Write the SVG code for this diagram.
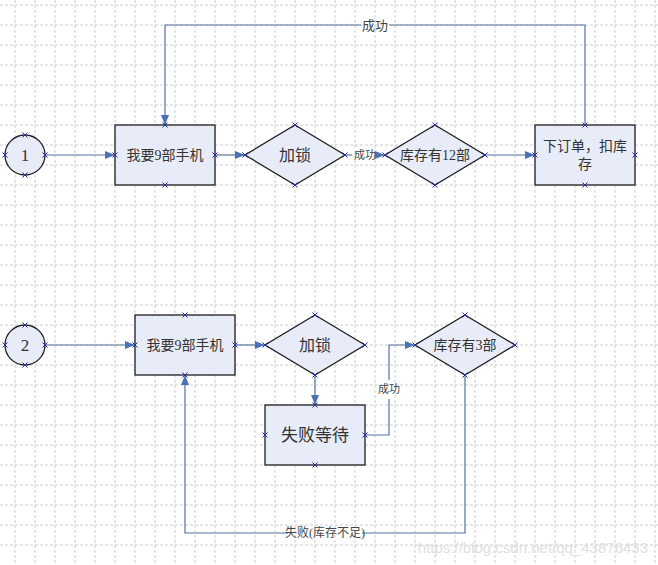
<svg xmlns="http://www.w3.org/2000/svg" xmlns:xlink="http://www.w3.org/1999/xlink" width="658" height="565" viewBox="0 0 658 565">
<style>
.grid{stroke:#cdcdcd;stroke-width:1;stroke-dasharray:3 2;fill:none}
.node{fill:#e8ecf8;stroke:#1e1e1e;stroke-width:1.3}
.t{font-family:"Liberation Serif","Noto Sans CJK SC",serif;fill:#333;text-anchor:middle;dominant-baseline:central}
.conn{fill:none;stroke:#55739f;stroke-width:1.2}
.lbl{font-family:"Liberation Serif","Noto Sans CJK SC",serif;fill:#444;text-anchor:middle;dominant-baseline:central}
.pt{stroke:#2a2aa8;stroke-width:1;fill:none}
</style>
<defs>
<marker id="arr" markerUnits="userSpaceOnUse" markerWidth="11" markerHeight="8" refX="10" refY="4" orient="auto">
<path d="M0,0 L10,4 L0,8 z" fill="#4a70b8"/>
</marker>
<path id="x" class="pt" d="M-2.5,-2.5L2.5,2.5M-2.5,2.5L2.5,-2.5"/>
</defs>
<rect width="658" height="565" fill="#fff"/>
<g id="grid" class="grid">
<path d="M15,0V565M35,0V565M55,0V565M75,0V565M95,0V565M115,0V565M135,0V565M155,0V565M175,0V565M195,0V565M215,0V565M235,0V565M255,0V565M275,0V565M295,0V565M315,0V565M335,0V565M355,0V565M375,0V565M395,0V565M415,0V565M435,0V565M455,0V565M475,0V565M495,0V565M515,0V565M535,0V565M555,0V565M575,0V565M595,0V565M615,0V565M635,0V565M655,0V565"/>
<path d="M0,5H658M0,25H658M0,45H658M0,65H658M0,85H658M0,105H658M0,125H658M0,145H658M0,165H658M0,185H658M0,205H658M0,225H658M0,245H658M0,265H658M0,285H658M0,305H658M0,325H658M0,345H658M0,365H658M0,385H658M0,405H658M0,425H658M0,445H658M0,465H658M0,485H658M0,505H658M0,525H658M0,545H658"/>
</g>
<g id="connectors">
<path class="conn" d="M45,155H115" marker-end="url(#arr)"/>
<path class="conn" d="M215,155H245" marker-end="url(#arr)"/>
<path class="conn" d="M345,155H352"/>
<path class="conn" d="M377,155H385" marker-end="url(#arr)"/>
<path class="conn" d="M485,155H535" marker-end="url(#arr)"/>
<path class="conn" d="M585,125V25H389M361,25H165V125" marker-end="url(#arr)"/>
<text class="lbl" x="375" y="25" font-size="13">成功</text>
<text class="lbl" x="365" y="155" font-size="11">成功</text>
<path class="conn" d="M45,345H135" marker-end="url(#arr)"/>
<path class="conn" d="M235,345H265" marker-end="url(#arr)"/>
<path class="conn" d="M315,375V405" marker-end="url(#arr)"/>
<path class="conn" d="M365,435H389V399M389,380V345H415" marker-end="url(#arr)"/>
<text class="lbl" x="389" y="389" font-size="11">成功</text>
<path class="conn" d="M465,375V533H362M288,533H185V375" marker-end="url(#arr)"/>
<text class="lbl" x="325" y="533" font-size="12">失败(库存不足)</text>
</g>
<g id="start1">
<circle class="node" cx="25" cy="155" r="20"/>
<text class="t" x="25" y="155" font-size="17">1</text>
<use href="#x" x="25" y="135"/><use href="#x" x="25" y="175"/><use href="#x" x="5" y="155"/><use href="#x" x="45" y="155"/>
</g>
<g id="want1">
<rect class="node" x="115" y="125" width="100" height="60"/>
<text class="t" x="165" y="155" font-size="14">我要9部手机</text>
<use href="#x" x="165" y="125"/><use href="#x" x="165" y="185"/><use href="#x" x="115" y="155"/><use href="#x" x="215" y="155"/>
</g>
<g id="lock1">
<path class="node" d="M295,125L345,155L295,185L245,155z"/>
<text class="t" x="295" y="155" font-size="16">加锁</text>
<use href="#x" x="295" y="125"/><use href="#x" x="295" y="185"/><use href="#x" x="245" y="155"/><use href="#x" x="345" y="155"/>
</g>
<g id="stock12">
<path class="node" d="M435,125L485,155L435,185L385,155z"/>
<text class="t" x="435" y="155" font-size="14">库存有12部</text>
<use href="#x" x="435" y="125"/><use href="#x" x="435" y="185"/><use href="#x" x="385" y="155"/><use href="#x" x="485" y="155"/>
</g>
<g id="order">
<rect class="node" x="535" y="125" width="100" height="60"/>
<text class="t" x="585" y="146" font-size="14">下订单，扣库</text>
<text class="t" x="585" y="164" font-size="14">存</text>
<use href="#x" x="585" y="125"/><use href="#x" x="585" y="185"/><use href="#x" x="535" y="155"/><use href="#x" x="635" y="155"/>
</g>
<g id="start2">
<circle class="node" cx="25" cy="345" r="20"/>
<text class="t" x="25" y="345" font-size="17">2</text>
<use href="#x" x="25" y="325"/><use href="#x" x="25" y="365"/><use href="#x" x="5" y="345"/><use href="#x" x="45" y="345"/>
</g>
<g id="want2">
<rect class="node" x="135" y="315" width="100" height="60"/>
<text class="t" x="185" y="345" font-size="14">我要9部手机</text>
<use href="#x" x="185" y="315"/><use href="#x" x="185" y="375"/><use href="#x" x="135" y="345"/><use href="#x" x="235" y="345"/>
</g>
<g id="lock2">
<path class="node" d="M315,315L365,345L315,375L265,345z"/>
<text class="t" x="315" y="345" font-size="16">加锁</text>
<use href="#x" x="315" y="315"/><use href="#x" x="315" y="375"/><use href="#x" x="265" y="345"/><use href="#x" x="365" y="345"/>
</g>
<g id="wait">
<rect class="node" x="265" y="405" width="100" height="60"/>
<text class="t" x="315" y="435" font-size="17">失败等待</text>
<use href="#x" x="315" y="405"/><use href="#x" x="315" y="465"/><use href="#x" x="265" y="435"/><use href="#x" x="365" y="435"/>
</g>
<g id="stock3">
<path class="node" d="M465,315L515,345L465,375L415,345z"/>
<text class="t" x="465" y="345" font-size="14">库存有3部</text>
<use href="#x" x="465" y="315"/><use href="#x" x="465" y="375"/><use href="#x" x="415" y="345"/><use href="#x" x="515" y="345"/>
</g>
<text x="648" y="547" font-family="Liberation Sans, sans-serif" font-size="15" fill="#e0e0e0" text-anchor="end" dominant-baseline="central">https://blog.csdn.net/qq_43876433</text>
</svg>
